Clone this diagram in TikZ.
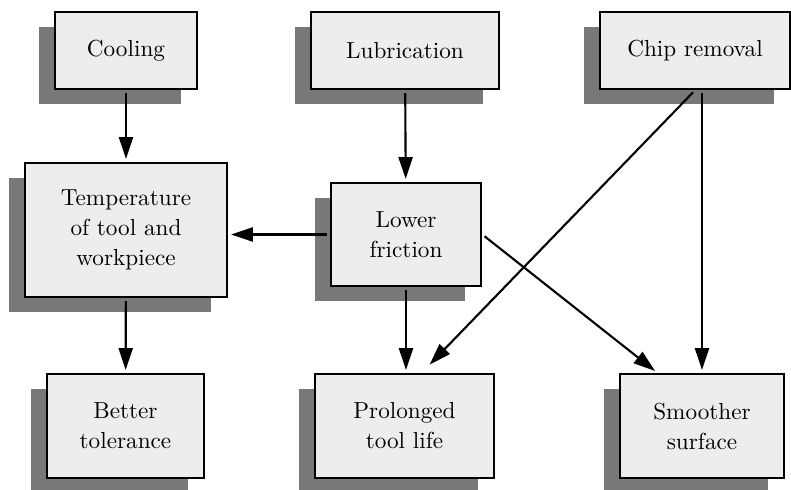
\documentclass[tikz,border=0pt]{standalone}
\usepackage{fontspec}
\newfontfamily\boxfont{lmroman10-regular}[Extension=.otf]
\usepackage{tikz}
\usetikzlibrary{arrows.meta,shadows}

\begin{document}
\begin{tikzpicture}[x=0.025cm, y=-0.025cm,
  box/.style={draw, line width=1.8pt, fill=black!7, align=center, inner sep=0pt,
    font=\boxfont\fontsize{16.5}{21.3}\selectfont,
    general shadow={fill=black!53, shadow xshift=-11.4pt, shadow yshift=-10.7pt}},
  link/.style={-{Triangle[length=15.5pt,width=10pt]}, line width=1.5pt, shorten >=2pt, shorten <=2pt}]
  \useasboundingbox (0,0) rectangle (791,490);
  % causes
  \node[box, minimum width=3.55cm, minimum height=1.925cm] (cool) at (126,50.5) {Cooling};
  \node[box, minimum width=4.7cm, minimum height=1.925cm] (lubr) at (405,50.5) {Lubrication};
  \node[box, minimum width=4.75cm, minimum height=1.925cm] (chip) at (695,50.5) {Chip removal};
  % middle
  \node[box, minimum width=5.05cm, minimum height=3.35cm] (temp) at (126,230) {Temperature\\of tool and\\workpiece};
  \node[box, minimum width=3.75cm, minimum height=2.575cm] (fric) at (406,234.5) {Lower\\friction};
  % effects
  \node[box, minimum width=3.925cm, minimum height=2.6cm] (toler) at (125.5,426) {Better\\tolerance};
  \node[box, minimum width=4.475cm, minimum height=2.6cm] (life) at (404.5,426) {Prolonged\\tool life};
  \node[box, minimum width=4.1cm, minimum height=2.6cm] (surf) at (702,426) {Smoother\\surface};
  % arrows
  \draw[link] (cool) -- (temp);
  \draw[link] (lubr) -- (fric);
  \draw[link] (fric.west) -- (fric.west -| temp.east);
  \draw[link] (temp) -- (toler);
  \draw[link] (fric.south) -- (fric.south |- life.north);
  \draw[link] (fric.east) -- (surf.130);
  \draw[link, shorten >=8pt] (chip.south) -- (life.72);
  \draw[link] (surf.north |- chip.south) -- (surf.north);
\end{tikzpicture}
\end{document}
